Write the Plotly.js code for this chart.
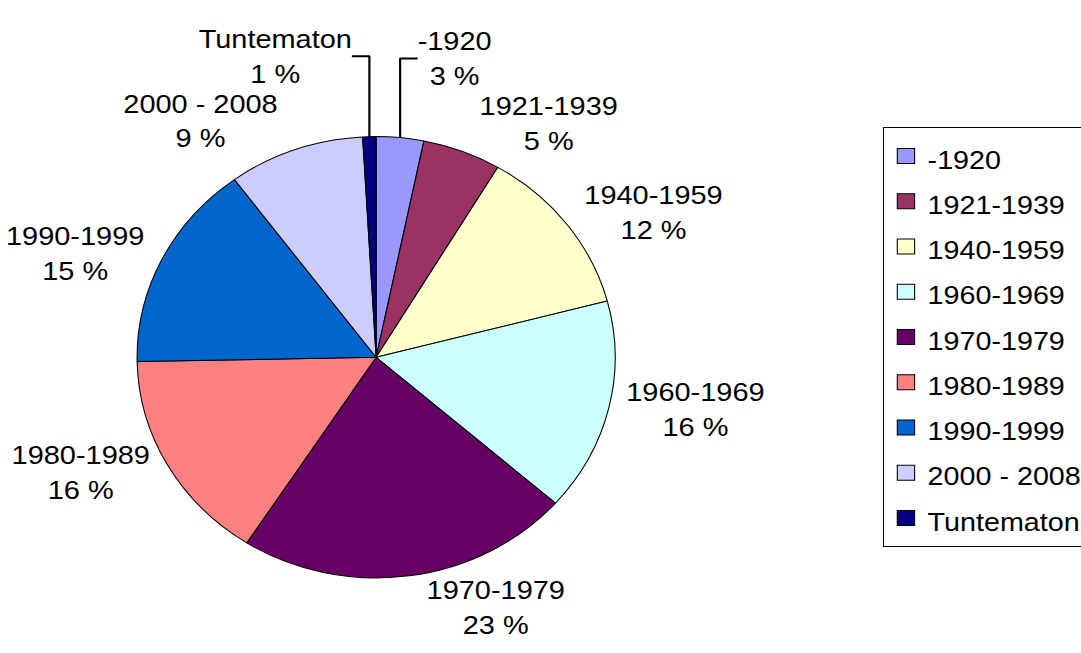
<!DOCTYPE html>
<html>
<head>
<meta charset="utf-8">
<script src="https://cdn.plot.ly/plotly-3.0.1.min.js"></script>
<style>
  html, body { margin: 0; padding: 0; background: #fff; overflow: hidden; }
  #chart { width: 998px; height: 653px; transform: scaleX(1.0832); transform-origin: 0 0; }
</style>
</head>
<body>
<div id="chart"></div>
<script>
// Data
const categories = ["-1920", "1921-1939", "1940-1959", "1960-1969", "1970-1979", "1980-1989", "1990-1999", "2000 - 2008", "Tuntematon"];
const shares = [3.2, 5.3, 12.4, 15.6, 22.6, 15.6, 15.2, 9.2, 0.9];
const sliceColors = ["#9999FF", "#993366", "#FFFFCC", "#CCFFFF", "#660066", "#FF8080", "#0066CC", "#CCCCFF", "#000080"];

const total = shares.reduce((a, b) => a + b, 0);
const sliceText = categories.map((c, i) => c + "<br>" + Math.round(shares[i] / total * 100) + " %");
const legendLabels = categories.map(c => '<span style="font-size:26.5px">' + c + '</span>');

const FONT = "Arial, 'Liberation Sans', sans-serif";

const trace = {
  type: "pie",
  labels: legendLabels,
  values: shares,
  text: sliceText,
  textinfo: "text",
  textposition: "outside",
  hoverinfo: "none",
  sort: false,
  direction: "clockwise",
  rotation: 0,
  marker: { colors: sliceColors, line: { color: "#000000", width: 1 } },
  outsidetextfont: { family: FONT, size: 26.7, color: "#000000" },
  domain: { x: [0.1268, 0.5691], y: [0.1149, 0.7908] },
  automargin: false
};

const layout = {
  width: 998,
  height: 653,
  margin: { l: 0, r: 0, t: 0, b: 0, autoexpand: false },
  paper_bgcolor: "#ffffff",
  plot_bgcolor: "#ffffff",
  font: { family: FONT, color: "#000000" },
  showlegend: true,
  legend: {
    x: 0.817, y: 0.805, xanchor: "left", yanchor: "top",
    bordercolor: "#000000", borderwidth: 1,
    bgcolor: "#ffffff",
    font: { family: FONT, size: 32.5, color: "#000000" }
  }
};

Plotly.newPlot("chart", [trace], layout, { staticPlot: true, displayModeBar: false }).then(gd => {
  gd.querySelectorAll(".legendpoints path.legendpie").forEach(p => {
    p.setAttribute("d", "M8,7.5H-8V-7.5H8Z");
  });
});
</script>
</body>
</html>
